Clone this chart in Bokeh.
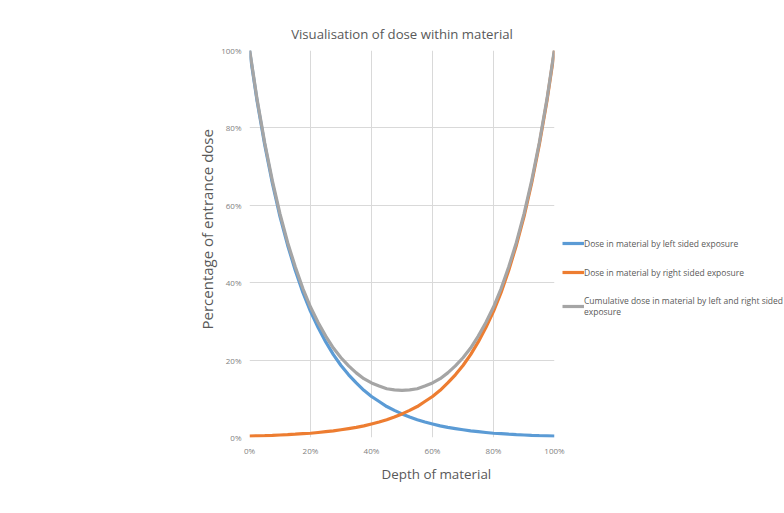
from bokeh.plotting import figure
from bokeh.models import Legend, LegendItem, NumeralTickFormatter, FixedTicker, Range1d, Title
from bokeh.embed import file_html
from bokeh.resources import INLINE

# Depth of material (fraction)
depth = [i * 0.025 for i in range(41)]

# Dose by left sided exposure (%)
left_dose = [100.0, 86.9, 75.6, 65.7, 57.1, 49.7, 43.2, 37.5, 32.6, 28.4,
             24.7, 21.4, 18.6, 16.2, 14.1, 12.2, 10.6, 9.3, 8.0, 7.0,
             6.1, 5.3, 4.6, 4.0, 3.5, 3.0, 2.6, 2.3, 2.0, 1.7,
             1.5, 1.3, 1.1, 1.0, 0.86, 0.74, 0.65, 0.56, 0.49, 0.43, 0.37]

# Dose by right sided exposure (%)
right_dose = [0.37, 0.43, 0.49, 0.56, 0.65, 0.74, 0.86, 1.0, 1.1, 1.3,
              1.5, 1.7, 2.0, 2.3, 2.6, 3.0, 3.5, 4.0, 4.6, 5.3,
              6.1, 7.0, 8.0, 9.3, 10.6, 12.2, 14.1, 16.2, 18.6, 21.4,
              24.7, 28.4, 32.6, 37.5, 43.2, 49.7, 57.1, 65.7, 75.6, 86.9, 100.0]

# Cumulative dose (%)
cumulative_dose = [100.4, 87.3, 76.1, 66.3, 57.8, 50.4, 44.1, 38.5, 33.7, 29.7,
                   26.2, 23.1, 20.6, 18.5, 16.7, 15.2, 14.1, 13.3, 12.6, 12.3,
                   12.2, 12.3, 12.6, 13.3, 14.1, 15.2, 16.7, 18.5, 20.6, 23.1,
                   26.2, 29.7, 33.7, 38.5, 44.1, 50.4, 57.8, 66.3, 76.1, 87.3, 100.4]

series_names = ["Dose in material by left sided exposure",
                "Dose in material by right sided exposure",
                "Cumulative dose in material by left and right sided\nexposure"]

x_ticks = [0, 0.2, 0.4, 0.6, 0.8, 1.0]
y_ticks = [0, 0.2, 0.4, 0.6, 0.8, 1.0]

p = figure(frame_width=305, frame_height=387, output_backend="svg", toolbar_location=None,
           x_range=Range1d(0, 1), y_range=Range1d(0, 1),
           min_border_left=249, min_border_right=0,
           min_border_top=50, min_border_bottom=68,
           title="Visualisation of dose within material")

p.title.align = "center"
p.title.text_font = "Open Sans"
p.title.text_font_size = "13.2px"
p.title.text_font_style = "normal"
p.title.text_color = "#595959"
p.title.standoff = 16

p.outline_line_color = None
p.background_fill_color = "white"
p.border_fill_color = "white"

for ax in (p.xaxis[0], p.yaxis[0]):
    ax.axis_line_color = None
    ax.major_tick_line_color = None
    ax.minor_tick_line_color = None
    ax.major_tick_out = 0
    ax.major_tick_in = 0
    ax.minor_tick_out = 0
    ax.major_label_text_font = "Open Sans"
    ax.major_label_text_font_size = "8px"
    ax.major_label_text_color = "#7f7f7f"
    ax.formatter = NumeralTickFormatter(format="0%")

p.xaxis.ticker = FixedTicker(ticks=x_ticks)
p.yaxis.ticker = FixedTicker(ticks=y_ticks)
p.xaxis.major_label_standoff = 7
p.yaxis.major_label_standoff = 8

xlabel = Title(text="Depth of material", align="left", offset=132, standoff=8,
               text_font="Open Sans", text_font_size="13.4px", text_font_style="normal",
               text_color="#595959")
ylabel = Title(text="Percentage of entrance dose", align="left", offset=108, standoff=4,
               text_font="Open Sans", text_font_size="15px", text_font_style="normal",
               text_color="#595959")
p.add_layout(xlabel, "below")
p.add_layout(ylabel, "left")

p.xgrid.grid_line_color = "#d9d9d9"
p.ygrid.grid_line_color = "#d9d9d9"
p.xgrid.ticker = FixedTicker(ticks=x_ticks)
p.ygrid.ticker = FixedTicker(ticks=y_ticks)

ly = [v / 100 for v in left_dose]
ry = [v / 100 for v in right_dose]
cy = [v / 100 for v in cumulative_dose]

r1 = p.line(depth, ly, line_color="#5b9bd5", line_width=3.2)
r2 = p.line(depth, ry, line_color="#ed7d31", line_width=3.2)
r3 = p.line(depth, cy, line_color="#a5a5a5", line_width=3.2)

legend = Legend(items=[LegendItem(label=series_names[0], renderers=[r1]),
                       LegendItem(label=series_names[1], renderers=[r2]),
                       LegendItem(label=series_names[2], renderers=[r3])],
                location=(8, 120), margin=0, padding=0, spacing=17,
                glyph_width=22, glyph_height=12, label_standoff=0,
                label_text_font="Open Sans", label_text_font_size="8.5px",
                label_text_line_height=1.55,
                label_text_color="#595959",
                border_line_alpha=0, background_fill_alpha=0)
p.add_layout(legend, "right")

open("out.html", "w").write(file_html(p, INLINE))
